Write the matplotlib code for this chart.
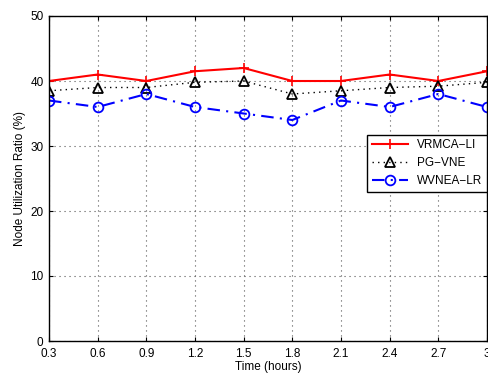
import matplotlib
matplotlib.use("Agg")
import matplotlib.pyplot as plt

plt.rcParams['font.family'] = ['Liberation Sans', 'DejaVu Sans']

time = [0.3, 0.6, 0.9, 1.2, 1.5, 1.8, 2.1, 2.4, 2.7, 3.0]
vrmca = [40, 41, 40, 41.5, 42, 40, 40, 41, 40, 41.5]
pgvne = [38.5, 39, 39, 39.8, 40, 38, 38.5, 39, 39.2, 39.8]
wvnea = [37, 36, 38, 36, 35, 34, 37, 36, 38, 36]
xticklabels = ['0.3', '0.6', '0.9', '1.2', '1.5', '1.8', '2.1', '2.4', '2.7', '3']

fig = plt.figure(figsize=(4.89, 3.73), dpi=100)
ax = fig.add_axes([49/489, 1-341/373, 438/489, 325/373])

ax.plot(time, vrmca, color='red', lw=1.5, marker='+', ms=7, mew=1.2, label='VRMCA\u2212LI')
ax.plot(time, pgvne, color='black', lw=1, ls=(0, (1, 3)), marker='^', ms=7, mfc='none', mew=1.3, label='PG\u2212VNE')
ax.plot(time, wvnea, color='blue', lw=1.5, ls=(0, (6, 3, 1, 3)), marker='o', ms=7, mfc='none', mew=1.3, label='WVNEA\u2212LR')

ax.set_xlim(0.3, 3.0)
ax.set_ylim(0, 50)
ax.set_xticks(time)
ax.set_xticklabels(xticklabels)
ax.set_yticks(range(0, 51, 10))
ax.grid(True, ls=(0, (1, 3.5)), color='#555555', lw=0.8)
ax.tick_params(direction='in', labelsize=8.5, length=3, top=True, right=True)
ax.tick_params(axis='x', pad=5)
ax.tick_params(axis='y', pad=4)
ax.set_xlabel('Time (hours)', fontsize=8.5, labelpad=1)
ax.set_ylabel('Node Utilization Ratio (%)', fontsize=8.5, labelpad=3)
for s in ax.spines.values():
    s.set_linewidth(1)

leg = ax.legend(loc='upper right', bbox_to_anchor=(1.0, 0.635), fontsize=8.5, fancybox=False,
                edgecolor='black', framealpha=1, borderaxespad=0, handlelength=3)
leg.get_frame().set_linewidth(1)

fig.savefig('out.png', dpi=100)
